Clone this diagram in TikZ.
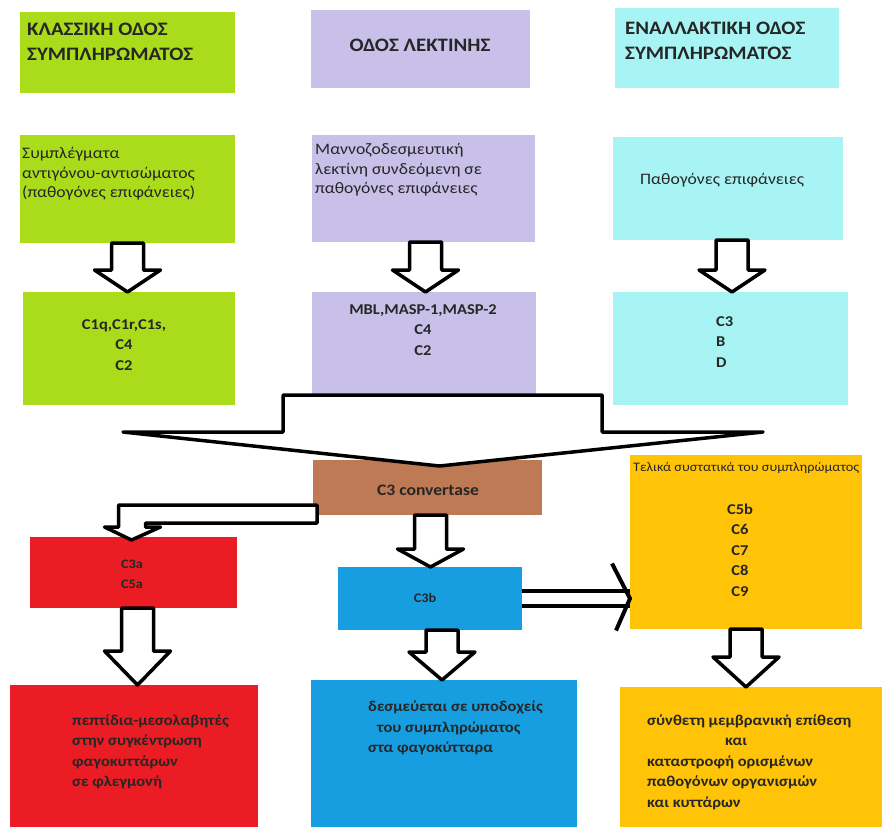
\documentclass[tikz,border=0pt]{standalone}
\usepackage{fontspec}
\setmainfont[FakeStretch=1.1]{Carlito}
\usetikzlibrary{calc,positioning}
\definecolor{pathgreen}{RGB}{170,220,28}
\definecolor{lectinlilac}{RGB}{200,192,232}
\definecolor{altcyan}{RGB}{168,244,244}
\definecolor{convbrown}{RGB}{190,122,84}
\definecolor{macorange}{RGB}{255,196,8}
\definecolor{anared}{RGB}{236,28,36}
\definecolor{opsoblue}{RGB}{22,158,224}

% white block arrow pointing down: [xshift]{from}{to}{head length}
\newcommand{\downarr}[4][0]{%
  \draw[blockarr] let \p1=($(#2.south)+(#1,0)$), \p2=(#3.north) in
    (\x1-16pt,\y1) -- (\x1+16pt,\y1) -- (\x1+16pt,\y2+#4pt) -- (\x1+33pt,\y2+#4pt)
    -- (\x1,\y2) -- (\x1-33pt,\y2+#4pt) -- (\x1-16pt,\y2+#4pt) -- cycle;}

\begin{document}
\begin{tikzpicture}[x=1pt, y=-1pt,
    box/.style={rectangle, draw=none, anchor=north west, inner sep=0pt, outer sep=0pt},
    hd/.style={font=\fontsize{19}{25}\selectfont\bfseries, align=left, inner sep=0pt, text=black!85},
    txt/.style={font=\fontsize{16}{19.5}\selectfont, align=left, inner sep=0pt, text=black!85},
    btxt/.style={font=\fontsize{15}{20.5}\selectfont\bfseries, align=left, inner sep=0pt, text=black!85},
    blockarr/.style={draw=black, fill=white, line width=3.5pt, line join=round}
]
    \useasboundingbox (0,0) rectangle (882,827);

    % the three pathways
    \node[box, fill=pathgreen, minimum width=215pt, minimum height=81pt] (g1) at (20,12) {};
    \node[box, fill=lectinlilac, minimum width=219pt, minimum height=78pt] (p1) at (311,10) {};
    \node[box, fill=altcyan, minimum width=224pt, minimum height=80pt] (c1) at (615,8) {};

    \node[box, fill=pathgreen, minimum width=215pt, minimum height=108pt] (g2) at (20,135) {};
    \node[box, fill=lectinlilac, minimum width=223pt, minimum height=107pt] (p2) at (312,135) {};
    \node[box, fill=altcyan, minimum width=230pt, minimum height=103pt] (c2) at (613,137) {};

    \node[box, fill=pathgreen, minimum width=212pt, minimum height=113pt] (g3) at (23,292) {};
    \node[box, fill=lectinlilac, minimum width=224pt, minimum height=103pt] (p3) at (312,292) {};
    \node[box, fill=altcyan, minimum width=235pt, minimum height=113pt] (c3) at (613,292) {};

    % convertase and products
    \node[box, fill=convbrown, minimum width=229pt, minimum height=55pt] (cv) at (313,460) {};
    \node[box, fill=macorange, minimum width=232pt, minimum height=174pt] (term) at (630,455) {};
    \node[box, fill=anared, minimum width=207pt, minimum height=71pt] (c3a) at (30,537) {};
    \node[box, fill=opsoblue, minimum width=184pt, minimum height=63pt] (c3b) at (338,567) {};

    \node[box, fill=anared, minimum width=248pt, minimum height=142pt] (bR) at (10,685) {};
    \node[box, fill=opsoblue, minimum width=266pt, minimum height=147pt] (bB) at (311,680) {};
    \node[box, fill=macorange, minimum width=262pt, minimum height=140pt] (bO) at (620,687) {};

    % arrows
    \downarr{g2}{g3}{22}
    \downarr[2]{p2}{p3}{22}
    \downarr[4]{c2}{c3}{22}

    \draw[blockarr] let \p1=(p3.south), \p2=(cv.north) in
        (\x1-141pt,\y1) -- (\x1+178pt,\y1) -- (\x1+178pt,\y1-37pt) -- (\x1+339pt,\y1-37pt)
        -- (\x2+12pt,\y2-6pt) -- (\x1-301pt,\y1-37pt) -- (\x1-141pt,\y1-37pt) -- cycle;

    \draw[blockarr] let \p1=(cv.south west), \p2=(c3a.north) in
        (\x1+4pt,\y1+10pt) -- (\x2-15pt,\y1+10pt) -- (\x2-15pt,\y2+10pt) -- (\x2-29pt,\y2+10pt)
        -- (\x2-2pt,\y2-3pt) -- (\x2+27pt,\y2+10pt) -- (\x2+12pt,\y2+10pt) -- (\x2+12pt,\y1-8pt)
        -- (\x1+4pt,\y1-8pt) -- cycle;

    \downarr[3]{cv}{c3b}{18}
    \downarr[4]{c3a}{bR}{34}
    \downarr[12]{c3b}{bB}{28}
    \downarr{term}{bO}{30}

    \coordinate (tipE) at (c3b.east -| term.west);
    \draw[line width=4pt, double=white, double distance=11pt] (c3b.east) -- (tipE);
    \draw[line width=4pt, line join=round] ($(tipE)+(-18,-35)$) -- (tipE) -- ($(tipE)+(-14,32)$);

    % texts
    \node[hd, anchor=west] (g1t) at (27,42) {ΚΛΑΣΣΙΚΗ ΟΔΟΣ\\ΣΥΜΠΛΗΡΩΜΑΤΟΣ};
    \node[hd] (p1t) at (420,45) {ΟΔΟΣ ΛΕΚΤΙΝΗΣ};
    \node[hd, anchor=west] (c1t) at (625,41) {ΕΝΑΛΛΑΚΤΙΚΗ ΟΔΟΣ\\ΣΥΜΠΛΗΡΩΜΑΤΟΣ};

    \node[txt, anchor=west] (g2t) at (22,174) {Συμπλέγματα\\αντιγόνου-αντισώματος\\(παθογόνες επιφάνειες)};
    \node[txt, anchor=west] (p2t) at (315,170) {Μαννοζοδεσμευτική\\λεκτίνη συνδεόμενη σε\\παθογόνες επιφάνειες};
    \node[txt, anchor=west] (c2t) at (640,180) {Παθογόνες επιφάνειες};

    \node[btxt, align=center] (g3t) at (124,345) {C1q,C1r,C1s,\\C4\\C2};
    \node[btxt, align=center] (p3t) at (423,330) {MBL,MASP-1,MASP-2\\C4\\C2};
    \node[btxt, anchor=west] (c3t) at (716,342) {C3\\B\\D};

    \node[btxt, font=\fontsize{16}{20}\selectfont\bfseries] (cvt) at (428,490) {C3 convertase};
    \node[txt, font=\fontsize{13}{16}\selectfont, anchor=west] (termh) at (633,468) {Τελικά συστατικά του συμπληρώματος};
    \node[btxt, align=center] (termt) at (740,550) {C5b\\C6\\C7\\C8\\C9};
    \node[btxt, font=\fontsize{13}{20}\selectfont\bfseries, align=center] (c3at) at (132,574) {C3a\\C5a};
    \node[btxt, font=\fontsize{13}{16}\selectfont\bfseries] (c3bt) at (425,598) {C3b};

    \node[btxt, anchor=west] (bRt) at (72,752) {πεπτίδια-μεσολαβητές\\στην συγκέντρωση\\φαγοκυττάρων\\σε φλεγμονή};
    \node[btxt, anchor=west] (bBt) at (368,728) {δεσμεύεται σε υποδοχείς\\\hspace*{9pt}του συμπληρώματος\\στα φαγοκύτταρα};
    \node[btxt, anchor=west] (bOt) at (647,762) {σύνθετη μεμβρανική επίθεση\\\hspace*{78pt}και\\καταστροφή ορισμένων\\παθογόνων οργανισμών\\και κυττάρων};
\end{tikzpicture}
\end{document}
